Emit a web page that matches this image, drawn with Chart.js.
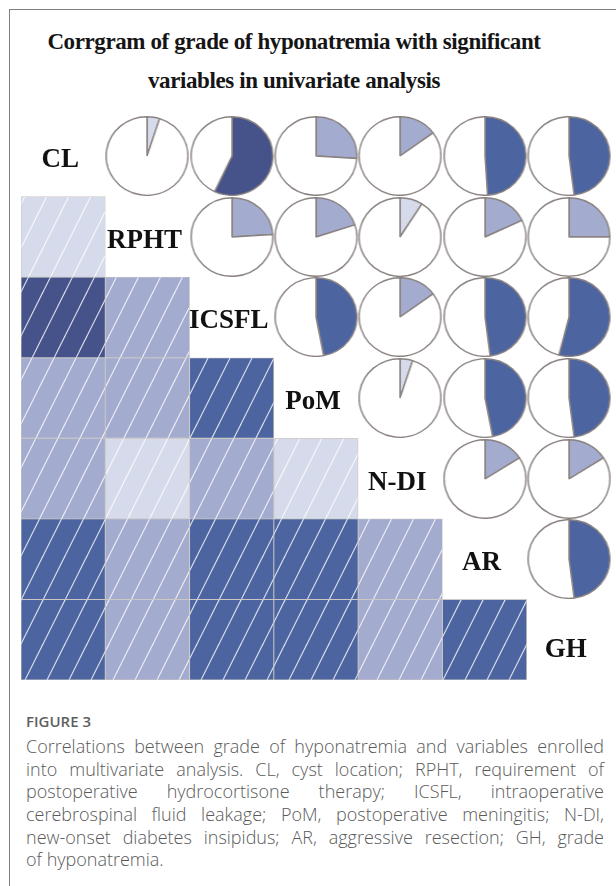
<!DOCTYPE html>
<html>
<head>
<meta charset="utf-8">
<script src="https://cdn.jsdelivr.net/npm/chart.js"></script>
<style>
  html, body { margin: 0; padding: 0; background: #fff; }
  body { width: 616px; height: 886px; position: relative; overflow: hidden; }
  #frame { position: absolute; left: 9px; top: 9px; width: 640px; height: 900px;
           border-left: 1.5px solid #7d7d7d; border-top: 1.5px solid #7d7d7d; }
  .title { position: absolute; left: 0; width: 588px; text-align: center; white-space: nowrap;
           font: bold 23px "Liberation Serif", "Times New Roman", serif; line-height: 24px;
           letter-spacing: -0.4px; color: #151515; }
  #grid { position: absolute; left: 21px; top: 116px; width: 590px; height: 564px; }
  #grid canvas { position: absolute; left: 0; top: 0; }
  .pie { position: absolute; width: 80px; height: 80px; transform: scaleX(1.04); }
  .lbl { position: absolute; white-space: nowrap; transform: translateX(-50%);
         font: bold 27px "Liberation Serif", "Times New Roman", serif; line-height: 27px; color: #111; }
  #caption { position: absolute; left: 26px; width: 578px; top: 711px; font-family: "Open Sans", sans-serif; color: #5a5a5a; }
  #caption .fig { font-size: 15px; font-weight: 600; line-height: 20px; height: 24px; color: #5f5f5f; }
  #caption .ln { font-size: 18px; font-weight: 300; line-height: 22.7px; height: 22.7px;
                 text-align: justify; text-align-last: justify; white-space: nowrap; }
  #caption .ln.last { text-align-last: left; }
</style>
</head>
<body>
<div id="frame"></div>
<div class="title" style="top:30px">Corrgram of grade of hyponatremia with significant</div>
<div class="title" style="top:69px">variables in univariate analysis</div>
<div id="grid"><canvas id="squares" width="590" height="564"></canvas></div>
<div id="caption">
  <div class="fig">FIGURE 3</div>
  <div class="ln">Correlations between grade of hyponatremia and variables enrolled</div>
  <div class="ln">into multivariate analysis. CL, cyst location; RPHT, requirement of</div>
  <div class="ln">postoperative hydrocortisone therapy; ICSFL, intraoperative</div>
  <div class="ln">cerebrospinal fluid leakage; PoM, postoperative meningitis; N-DI,</div>
  <div class="ln">new-onset diabetes insipidus; AR, aggressive resection; GH, grade</div>
  <div class="ln last">of hyponatremia.</div>
</div>
<script>
const variables = ["CL", "RPHT", "ICSFL", "PoM", "N-DI", "AR", "GH"];

// |r| of each variable against the ones before it (lower triangle)
const rCL = [];
const rRPHT = [0.05];
const rICSFL = [0.57, 0.24];
const rPoM = [0.26, 0.20, 0.47];
const rNDI = [0.15, 0.09, 0.15, 0.05];
const rAR = [0.49, 0.18, 0.48, 0.47, 0.16];
const rGH = [0.48, 0.25, 0.54, 0.48, 0.16, 0.48];
const corrRows = [rCL, rRPHT, rICSFL, rPoM, rNDI, rAR, rGH];

const n = variables.length;
const cellW = 590 / n;
const cellH = 564 / n;

// colour steps like the corrgram ramp
function shade(r) {
  if (r < 0.1) return "#d6dbeb";
  if (r < 0.35) return "#a3abce";
  if (r < 0.55) return "#4c64a0";
  return "#46528a";
}

const hatchCache = {};
function hatch(color) {
  if (hatchCache[color]) return hatchCache[color];
  const c = document.createElement("canvas");
  c.width = 22; c.height = 44;
  const g = c.getContext("2d");
  g.fillStyle = color;
  g.fillRect(0, 0, 22, 44);
  g.strokeStyle = "rgba(255,255,255,0.8)";
  g.lineWidth = 1.2;
  for (let k = 0; k <= 2; k++) {
    g.beginPath();
    g.moveTo(-3, 44 * k + 6);
    g.lineTo(25, 44 * k - 50);
    g.stroke();
  }
  hatchCache[color] = g.createPattern(c, "repeat");
  return hatchCache[color];
}

// lower triangle: one floating bar per cell
const datasets = corrRows.slice(1).map((vals, k) => {
  const row = k + 1;
  return {
    label: variables[row],
    data: variables.map((_, j) => (j < row ? [row, row + 1] : null)),
    backgroundColor: ctx => {
      const v = vals[ctx.dataIndex];
      return v == null ? "rgba(0,0,0,0)" : hatch(shade(v));
    },
    borderColor: "#cdc9c4",
    borderWidth: 0.8,
    borderSkipped: false,
    grouped: false,
    barPercentage: 1,
    categoryPercentage: 1
  };
});

new Chart(document.getElementById("squares"), {
  type: "bar",
  data: { labels: variables, datasets },
  options: {
    responsive: false,
    animation: false,
    events: [],
    layout: { padding: 0 },
    scales: {
      x: { display: false },
      y: { display: false, min: 0, max: n, reverse: true }
    },
    plugins: { legend: { display: false }, tooltip: { enabled: false } }
  }
});

// upper triangle: pies
const grid = document.getElementById("grid");
for (let i = 0; i < n; i++) {
  for (let j = i + 1; j < n; j++) {
    const v = corrRows[j][i];
    const box = document.createElement("div");
    box.className = "pie";
    box.style.left = ((j + 0.5) * cellW - 40) + "px";
    box.style.top = ((i + 0.5) * cellH - 40) + "px";
    const cv = document.createElement("canvas");
    cv.width = 80; cv.height = 80;
    box.appendChild(cv);
    grid.appendChild(box);
    new Chart(cv, {
      type: "pie",
      data: {
        labels: [variables[i] + " vs " + variables[j], ""],
        datasets: [{
          data: [v, 1 - v],
          backgroundColor: [shade(v), "#ffffff"],
          borderColor: "#8a8280",
          borderWidth: 1.4
        }]
      },
      options: {
        responsive: false,
        animation: false,
        events: [],
        layout: { padding: 0 },
        plugins: { legend: { display: false }, tooltip: { enabled: false } }
      }
    });
  }
}

// variable names on the diagonal (top = cap centre + half cap - baseline offset)
// the last one sits a little low in the original
variables.forEach((name, i) => {
  const d = document.createElement("div");
  d.className = "lbl";
  d.textContent = name;
  const nudge = i === n - 1 ? 9 : 3;
  d.style.left = ((i + 0.5) * cellW - 3) + "px";
  d.style.top = ((i + 0.5) * cellH + nudge + 9 - 23) + "px";
  grid.appendChild(d);
});
</script>
</body>
</html>
